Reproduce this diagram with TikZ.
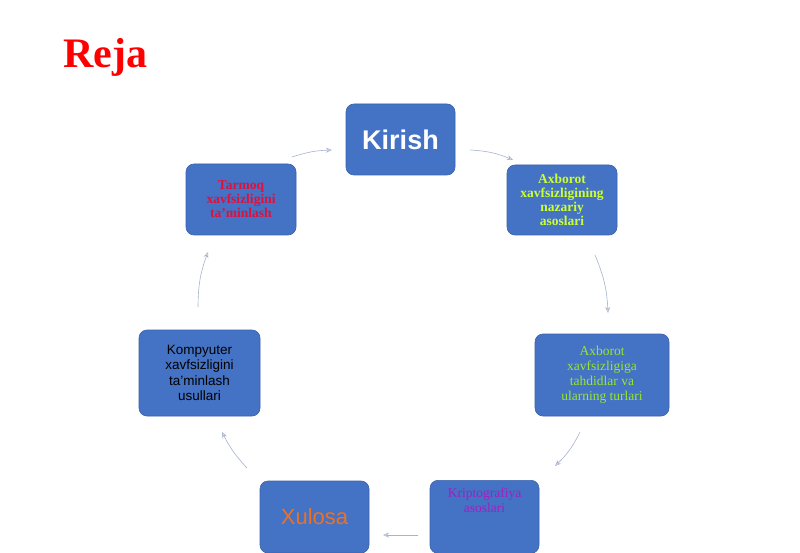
\documentclass[tikz,border=0pt]{standalone}
\usepackage{fontspec}
\setmainfont{Liberation Serif}
\setsansfont{Liberation Sans}
\usetikzlibrary{arrows.meta}
\definecolor{boxblue}{HTML}{4472C4}
\definecolor{boxedge}{HTML}{3A62AC}
\definecolor{arr}{HTML}{A8B4CC}
\definecolor{ygreen}{HTML}{CCFF33}
\definecolor{lgreen}{HTML}{99E62E}
\definecolor{rred}{HTML}{E0103C}
\definecolor{purp}{HTML}{A020C0}
\definecolor{orng}{HTML}{F07020}
\begin{document}
\begin{tikzpicture}[x=1pt,y=-1pt,
  box/.style={draw=boxedge,fill=boxblue,rounded corners=8pt,line width=0.6pt,align=center,inner sep=2pt},
  conn/.style={draw=arr,line width=0.6pt,-{Stealth[length=6pt,width=5pt,open]}}]
\useasboundingbox[fill=white] (0,0) rectangle (800,553);
\node[anchor=west,text=red,font=\bfseries\fontsize{42}{42}\selectfont] (title) at (60,57) {Reja};
\node[box,minimum width=109pt,minimum height=71pt,text=white,font=\sffamily\bfseries\fontsize{27}{28}\selectfont] (k) at (400.5,139.5) {Kirish};
\node[box,minimum width=110pt,minimum height=70pt,text=ygreen,font=\bfseries\fontsize{13.5}{14}\selectfont] (a) at (562,200) {Axborot\\xavfsizligining\\nazariy\\asoslari};
\node[box,minimum width=134pt,minimum height=82pt,text=lgreen,font=\fontsize{13.5}{15}\selectfont] (t) at (602,375) {Axborot\\xavfsizligiga\\tahdidlar va\\ularning turlari};
\node[box,minimum width=109pt,minimum height=73pt,text=purp,font=\fontsize{13.5}{15}\selectfont,anchor=north] (kr) at (484.5,480) {\\[-8pt]Kriptografiya\\asoslari\\[16pt]};
\node[box,minimum width=109pt,minimum height=72pt,text=orng,font=\sffamily\fontsize{22}{24}\selectfont] (x) at (314.5,517) {Xulosa};
\node[box,minimum width=121pt,minimum height=86pt,text=black,font=\sffamily\fontsize{13.5}{15.5}\selectfont] (ko) at (199.5,373) {Kompyuter\\xavfsizligini\\ta'minlash\\usullari};
\node[box,minimum width=110pt,minimum height=71pt,text=rred,font=\bfseries\fontsize{13.5}{14}\selectfont] (tr) at (241,199.5) {Tarmoq\\xavfsizligini\\ta'minlash};
\coordinate (c1) at (470,150); \coordinate (c2) at (513,160);
\coordinate (c3) at (595,255); \coordinate (c4) at (608,313);
\coordinate (c5) at (580,432); \coordinate (c6) at (555,466);
\coordinate (c7) at (418,535); \coordinate (c8) at (383,535);
\coordinate (c9) at (247,468); \coordinate (c10) at (222,432);
\coordinate (c11) at (198,307); \coordinate (c12) at (208,252);
\coordinate (c13) at (292,157); \coordinate (c14) at (332,150);
\draw[conn] (c1) to[bend left=10] (c2);
\draw[conn] (c3) to[bend left=10] (c4);
\draw[conn] (c5) to[bend left=10] (c6);
\draw[conn] (c7) -- (c8);
\draw[conn] (c9) to[bend left=8] (c10);
\draw[conn] (c11) to[bend left=10] (c12);
\draw[conn] (c13) to[bend left=8] (c14);
\end{tikzpicture}
\end{document}
